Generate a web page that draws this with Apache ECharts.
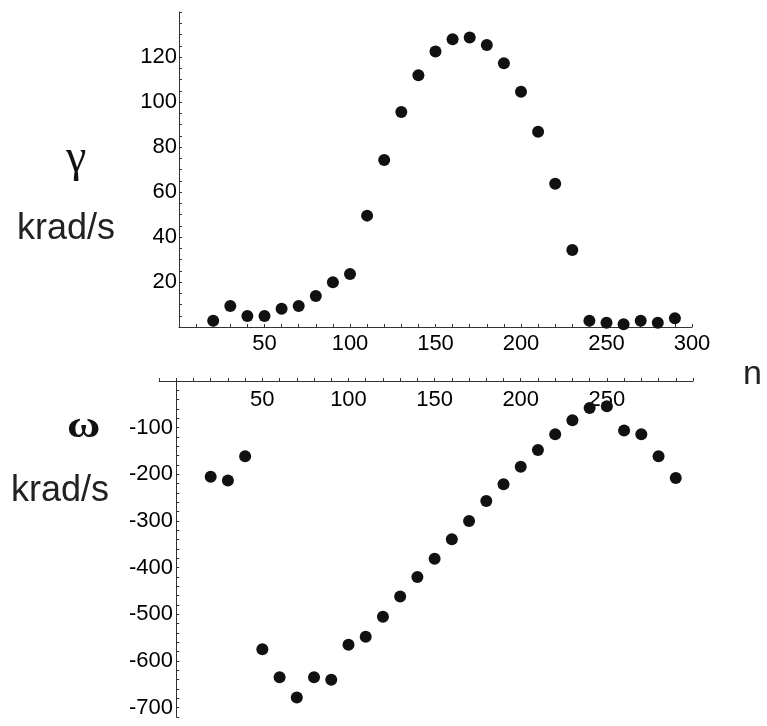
<!DOCTYPE html>
<html>
<head>
<meta charset="utf-8">
<script src="https://cdn.jsdelivr.net/npm/echarts@6/dist/echarts.min.js"></script>
<style>
  html, body { margin: 0; padding: 0; background: #fff; }
  #main { width: 767px; height: 726px; }
</style>
</head>
<body>
<div id="main"></div>
<script>
// n values (both panels)
var nValues = [20, 30, 40, 50, 60, 70, 80, 90, 100, 110, 120, 130, 140, 150,
  160, 170, 180, 190, 200, 210, 220, 230, 240, 250, 260, 270, 280, 290];
// gamma, krad/s
var gammaValues = [2.8, 9.3, 4.9, 4.9, 8.1, 9.3, 13.8, 19.9, 23.6, 49.5, 74.2, 95.6,
  111.9, 122.4, 127.9, 128.7, 125.3, 117.2, 104.6, 86.8, 63.7, 34.2,
  2.8, 1.9, 1.2, 2.8, 1.9, 3.9];
// omega, krad/s
var omegaValues = [-205, -213, -161, -575, -635, -678, -635, -640, -565, -548, -505, -462,
  -420, -381, -339, -300, -257, -221, -184, -148, -114, -84,
  -58, -54, -106, -114, -161, -208];
var topXLabels = [50, 100, 150, 200, 250, 300];
var bottomXLabels = [50, 100, 150, 200, 250];
var gammaTicks = [20, 40, 60, 80, 100, 120];
var omegaTicks = [-100, -200, -300, -400, -500, -600, -700];

function pairs(xs, ys) {
  return xs.map(function (x, i) { return [x, ys[i]]; });
}

var font = '"Liberation Sans", Arial, sans-serif';
var axisColor = '#333';

var myChart = echarts.init(document.getElementById('main'));
var option = {
  animation: false,
  backgroundColor: '#fff',
  grid: [
    { left: 179, top: 12, width: 513, height: 315 },
    { left: 159, top: 381, width: 534, height: 336 }
  ],
  xAxis: [
    {
      gridIndex: 0, type: 'value', min: 0, max: 300, interval: 10,
      axisLine: { lineStyle: { color: axisColor, width: 1 } },
      axisTick: { inside: true, length: 3, lineStyle: { color: axisColor } },
      splitLine: { show: false },
      axisLabel: {
        margin: 6, fontSize: 22, fontFamily: font, color: '#000',
        formatter: function (v) { return topXLabels.indexOf(v) >= 0 ? v : ''; }
      }
    },
    {
      // axis sits on omega = 0, i.e. the top edge; ticks up, labels below
      gridIndex: 1, type: 'value', min: -10, max: 300, interval: 10,
      position: 'top',
      axisLine: { onZero: false, lineStyle: { color: axisColor, width: 1 } },
      axisTick: { inside: false, length: 3, lineStyle: { color: axisColor } },
      splitLine: { show: false },
      axisLabel: {
        inside: true, margin: 8, fontSize: 22, fontFamily: font, color: '#000',
        formatter: function (v) { return bottomXLabels.indexOf(v) >= 0 ? v : ''; }
      }
    }
  ],
  yAxis: [
    {
      gridIndex: 0, type: 'value', min: 0, max: 140, interval: 5,
      axisLine: { lineStyle: { color: axisColor, width: 1 } },
      axisTick: { inside: true, length: 3, lineStyle: { color: axisColor } },
      splitLine: { show: false },
      axisLabel: {
        margin: 2, fontSize: 22, fontFamily: font, color: '#000',
        formatter: function (v) { return gammaTicks.indexOf(v) >= 0 ? v : ''; }
      }
    },
    {
      gridIndex: 1, type: 'value', min: -720, max: 0, interval: 20,
      axisLine: { onZero: true, lineStyle: { color: axisColor, width: 1 } },
      axisTick: { inside: true, length: 3, lineStyle: { color: axisColor } },
      splitLine: { show: false },
      axisLabel: {
        margin: -14, fontSize: 22, fontFamily: font, color: '#000',
        formatter: function (v) { return omegaTicks.indexOf(v) >= 0 ? v : ''; }
      }
    }
  ],
  series: [
    {
      name: 'gamma', type: 'scatter', xAxisIndex: 0, yAxisIndex: 0,
      symbolSize: 12, itemStyle: { color: '#111', opacity: 1 },
      data: pairs(nValues, gammaValues)
    },
    {
      name: 'omega', type: 'scatter', xAxisIndex: 1, yAxisIndex: 1,
      symbolSize: 12, itemStyle: { color: '#111', opacity: 1 },
      data: pairs(nValues, omegaValues)
    }
  ],
  graphic: [
    { type: 'text', x: 66, y: 136, style: { text: 'γ', font: '46px "Liberation Serif", serif', fill: '#111' } },
    { type: 'text', x: 17, y: 211, style: { text: 'krad/s', font: '36px ' + font, fill: '#222' } },
    { type: 'text', x: 67, y: 408, scaleX: 1.2, style: { text: 'ω', font: 'bold 38px "Liberation Serif", serif', fill: '#111' } },
    { type: 'text', x: 11, y: 473, style: { text: 'krad/s', font: '36px ' + font, fill: '#222' } },
    { type: 'text', x: 743, y: 358, style: { text: 'n', font: '34px ' + font, fill: '#222' } }
  ]
};
myChart.setOption(option);
</script>
</body>
</html>
